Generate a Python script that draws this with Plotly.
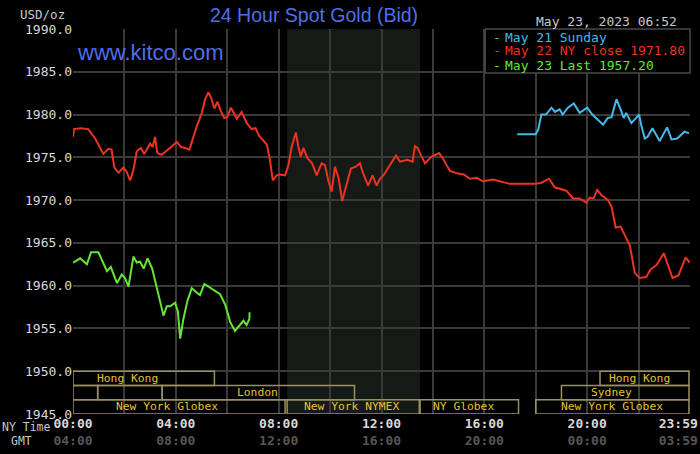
import plotly.graph_objects as go

# hours after midnight, NY time
may22_hours = [0.0, 0.04, 0.3, 0.59, 0.86, 1.06, 1.18, 1.38, 1.5, 1.61, 1.77, 1.96, 2.09, 2.22, 2.35,
               2.48, 2.64, 2.77, 3.0, 3.1, 3.19, 3.28, 3.45, 3.65, 3.84, 4.04, 4.2, 4.36, 4.53, 4.62,
               4.81, 5.01, 5.14, 5.27, 5.38, 5.5, 5.62, 5.75, 5.88, 6.0, 6.14, 6.25, 6.37, 6.56, 6.76,
               6.95, 7.1, 7.24, 7.4, 7.54, 7.66, 7.77, 7.92, 8.05, 8.25, 8.38, 8.51, 8.67, 8.76, 8.86,
               8.96, 9.12, 9.3, 9.48, 9.67, 9.8, 9.93, 10.06, 10.19, 10.33, 10.47, 10.62, 10.81, 11.0,
               11.16, 11.29, 11.48, 11.65, 11.81, 11.94, 12.1, 12.33, 12.56, 12.72, 13.0, 13.21, 13.3,
               13.4, 13.49, 13.69, 13.95, 14.24, 14.4, 14.66, 14.98, 15.2, 15.44, 15.7, 15.95, 16.34,
               16.99, 17.5, 17.96, 18.2, 18.52, 18.74, 19.19, 19.45, 19.7, 19.97, 20.1, 20.25, 20.39,
               20.55, 20.81, 20.95, 21.11, 21.3, 21.53, 21.66, 21.85, 22.04, 22.3, 22.46, 22.7, 22.98,
               23.32, 23.55, 23.83, 23.98]
may22_price = [1977.4, 1978.3, 1978.4, 1978.3, 1977.2, 1976.1, 1975.4, 1976.0, 1975.9, 1973.8, 1973.2,
               1973.8, 1973.3, 1972.3, 1973.5, 1975.7, 1976.1, 1975.4, 1976.6, 1976.2, 1977.4, 1975.5,
               1975.3, 1975.8, 1976.3, 1976.8, 1976.2, 1976.1, 1975.9, 1976.8, 1978.6, 1980.2, 1981.8,
               1982.6, 1981.9, 1980.7, 1981.5, 1980.4, 1979.6, 1979.7, 1980.8, 1980.2, 1979.5, 1980.3,
               1979.0, 1978.3, 1978.4, 1977.5, 1977.0, 1976.5, 1974.7, 1972.3, 1972.9, 1973.0, 1972.9,
               1974.1, 1976.3, 1977.9, 1976.3, 1975.1, 1976.1, 1974.9, 1974.3, 1972.9, 1974.3, 1974.1,
               1972.3, 1971.0, 1973.9, 1972.6, 1969.9, 1971.7, 1973.7, 1973.9, 1974.3, 1973.1, 1971.7,
               1972.9, 1971.7, 1972.5, 1973.0, 1974.1, 1975.2, 1974.5, 1974.7, 1974.5, 1976.3, 1976.1,
               1975.5, 1974.3, 1975.1, 1975.5, 1974.8, 1973.4, 1973.1, 1973.0, 1972.5, 1972.6, 1972.2,
               1972.4, 1971.9, 1971.9, 1971.9, 1972.0, 1972.5, 1971.5, 1971.1, 1970.2, 1970.2, 1969.7,
               1970.3, 1970.2, 1971.2, 1970.6, 1970.0, 1969.2, 1966.8, 1966.9, 1965.6, 1964.7, 1961.5,
               1960.9, 1961.0, 1961.9, 1962.4, 1963.8, 1960.9, 1961.2, 1963.3, 1962.7]

may21_hours = [17.28, 18.0, 18.1, 18.22, 18.4, 18.61, 18.75, 18.93, 19.05, 19.25, 19.48, 19.71, 20.0,
               20.2, 20.62, 20.8, 20.95, 21.14, 21.3, 21.42, 21.52, 21.72, 22.02, 22.1, 22.24, 22.35,
               22.54, 22.82, 23.11, 23.28, 23.5, 23.79, 23.96]
may21_price = [1977.7, 1977.7, 1978.3, 1980.0, 1980.0, 1980.8, 1980.3, 1980.6, 1980.0, 1980.8, 1981.3,
               1980.2, 1980.8, 1980.0, 1978.8, 1979.6, 1979.7, 1981.8, 1980.6, 1979.6, 1980.2, 1979.0,
               1980.0, 1978.8, 1977.2, 1977.4, 1978.4, 1976.9, 1978.5, 1977.1, 1977.2, 1978.0, 1977.8]

may23_hours = [0.0, 0.28, 0.54, 0.7, 0.99, 1.15, 1.32, 1.47, 1.6, 1.71, 1.9, 2.02, 2.16, 2.25, 2.35,
               2.48, 2.61, 2.75, 2.9, 3.08, 3.26, 3.39, 3.52, 3.65, 3.78, 3.97, 4.08, 4.17, 4.3, 4.45,
               4.62, 4.78, 4.94, 5.11, 5.3, 5.53, 5.72, 5.92, 6.11, 6.3, 6.46, 6.63, 6.75, 6.86, 6.87]
may23_price = [1962.7, 1963.2, 1962.5, 1963.9, 1963.9, 1962.8, 1961.7, 1962.2, 1961.2, 1960.3, 1961.3,
               1960.9, 1959.9, 1961.5, 1963.4, 1962.7, 1962.8, 1962.0, 1963.2, 1962.0, 1959.7, 1958.2,
               1956.5, 1957.6, 1957.6, 1958.0, 1957.0, 1953.8, 1956.2, 1958.2, 1959.7, 1959.3, 1958.9,
               1960.2, 1959.8, 1959.3, 1959.0, 1957.8, 1955.8, 1954.7, 1955.3, 1955.9, 1955.4, 1956.1, 1956.9]

# market sessions: name, row (0 = top), start hour, end hour, label centre hour
session_names = ["Hong Kong", "Hong Kong", "", "", "London", "Sydney",
                 "New York Globex", "New York NYMEX", "NY Globex", "New York Globex"]
session_rows = [0, 0, 1, 1, 1, 1, 2, 2, 2, 2]
session_start = [0.0, 20.5, 0.0, 0.96, 3.47, 19.0, 0.0, 8.33, 13.5, 18.0]
session_end = [5.5, 23.96, 0.96, 3.47, 10.95, 23.96, 8.25, 13.47, 17.33, 23.96]
session_label_at = [2.11, 22.04, None, None, 7.16, 20.96, 3.65, 10.85, 15.18, 20.96]

nymex_open, nymex_close = 8.33, 13.5

tick_hours = [0, 2, 4, 6, 8, 10, 12, 14, 16, 18, 20, 22, 24]
ny_labels = ["00:00", "", "04:00", "", "08:00", "", "12:00", "", "16:00", "", "20:00", "", "23:59"]
gmt_labels = ["04:00", "", "08:00", "", "12:00", "", "16:00", "", "20:00", "", "00:00", "", "03:59"]

legend_lines = ["May 21 Sunday", "May 22 NY close 1971.80", "May 23 Last 1957.20"]

red = "#ec3220"
blue = "#45b9ea"
green = "#68e435"
blue_text = "#4f6fe6"
gold = "#e6c232"
box_line = "#9a9060"
grid = "#3a3a3a"
mono = "DejaVu Sans Mono"

fig = go.Figure()

fig.add_vrect(x0=nymex_open, x1=nymex_close, fillcolor="#161a16", line_width=0, layer="below")

fig.add_trace(go.Scatter(x=may21_hours, y=may21_price, mode="lines", line=dict(color=blue, width=2)))
fig.add_trace(go.Scatter(x=may22_hours, y=may22_price, mode="lines", line=dict(color=red, width=2)))
fig.add_trace(go.Scatter(x=may23_hours, y=may23_price, mode="lines", line=dict(color=green, width=2)))

row_h = 5 / 3
for name, row, x0, x1, lx in zip(session_names, session_rows, session_start, session_end,
                                 session_label_at):
    top = 1950 - row * row_h
    fig.add_shape(type="rect", x0=x0, x1=x1, y0=top - row_h, y1=top,
                  line=dict(color=box_line, width=1.5), fillcolor="rgba(0,0,0,0)")
    if name:
        fig.add_annotation(x=lx, y=top - row_h / 2, text=name, showarrow=False,
                           font=dict(family=mono, size=11.3, color=gold))

tick_text = []
for h, a, b in zip(tick_hours, ny_labels, gmt_labels):
    if not a:
        tick_text.append("")
        continue
    pad = "\u00a0" * 3 if h == 24 else ""  # last label sits left of the edge
    tick_text.append(f"<b>{a}{pad}</b><br><span style='color:#565656'><b>{b}{pad}</b></span>")

fig.update_layout(
    width=700, height=454,
    margin=dict(l=73, r=10, t=29, b=40),
    paper_bgcolor="#000000", plot_bgcolor="#000000",
    showlegend=False,
    xaxis=dict(range=[0, 24], tickmode="array", tickvals=tick_hours, ticktext=tick_text,
               showgrid=True, gridcolor=grid, gridwidth=1.5, zeroline=False, showline=False,
               ticks="", automargin=False, tickangle=0, ticklabeloverflow="allow",
               tickfont=dict(family=mono, size=13, color="#d8d8d8")),
    yaxis=dict(range=[1945, 1990], dtick=5, tick0=1945, tickformat=".1f", showgrid=True,
               gridcolor=grid, gridwidth=1.5, zeroline=False, ticks="", automargin=False,
               tickfont=dict(family=mono, size=13, color="#d8d8d8")),
)

fig.add_annotation(xref="paper", yref="paper", x=0.39, y=1, yshift=14, yanchor="middle",
                   text="24 Hour Spot Gold (Bid)", showarrow=False,
                   font=dict(family="Liberation Sans", size=19.5, color=blue_text))
fig.add_annotation(xref="paper", yref="paper", x=0.004, y=0.94, xanchor="left", yanchor="middle",
                   text="www.kitco.com", showarrow=False,
                   font=dict(family="Liberation Sans", size=22, color=blue_text))
fig.add_annotation(xref="paper", yref="paper", x=1, y=1, xshift=-11, yshift=8, xanchor="right",
                   yanchor="middle", text="May 23, 2023 06:52", showarrow=False,
                   font=dict(family=mono, size=13, color="#c8c8c8"))
fig.add_annotation(xref="paper", yref="paper", x=0, y=1, xshift=-6, yshift=15, xanchor="right",
                   yanchor="middle", text="USD/oz", showarrow=False,
                   font=dict(family=mono, size=12.5, color="#c8c8c8"))
fig.add_annotation(xref="paper", yref="paper", x=0, y=0, xshift=-47, yshift=-13, xanchor="center",
                   yanchor="middle", text="NY Time", showarrow=False,
                   font=dict(family=mono, size=11.5, color="#c8c8c8"))
fig.add_annotation(xref="paper", yref="paper", x=0, y=0, xshift=-52, yshift=-27, xanchor="center",
                   yanchor="middle", text="GMT", showarrow=False,
                   font=dict(family=mono, size=11.5, color="#c8c8c8"))

# legend box, one line per day
fig.add_shape(type="rect", xref="paper", yref="paper", x0=0.668, x1=1, y0=0.886, y1=1,
              line=dict(color="#4a4a4a", width=1.5), fillcolor="#000000")
legend_colors = [blue, red, green]
legend_y = [0.979, 0.943, 0.906]
for txt, col, ly in zip(legend_lines, legend_colors, legend_y):
    fig.add_annotation(xref="paper", yref="paper", x=0.677, y=ly, xanchor="left", yanchor="middle",
                       text="-", showarrow=False, font=dict(family=mono, size=13, color=col))
    fig.add_annotation(xref="paper", yref="paper", x=0.697, y=ly, xanchor="left", yanchor="middle",
                       text=txt, showarrow=False, font=dict(family=mono, size=13, color=col))

# drop the default 8px page margin so the figure fills the window
fig.write_html("out.html", config={"displayModeBar": False},
               post_script="document.body.style.margin = '0';")
